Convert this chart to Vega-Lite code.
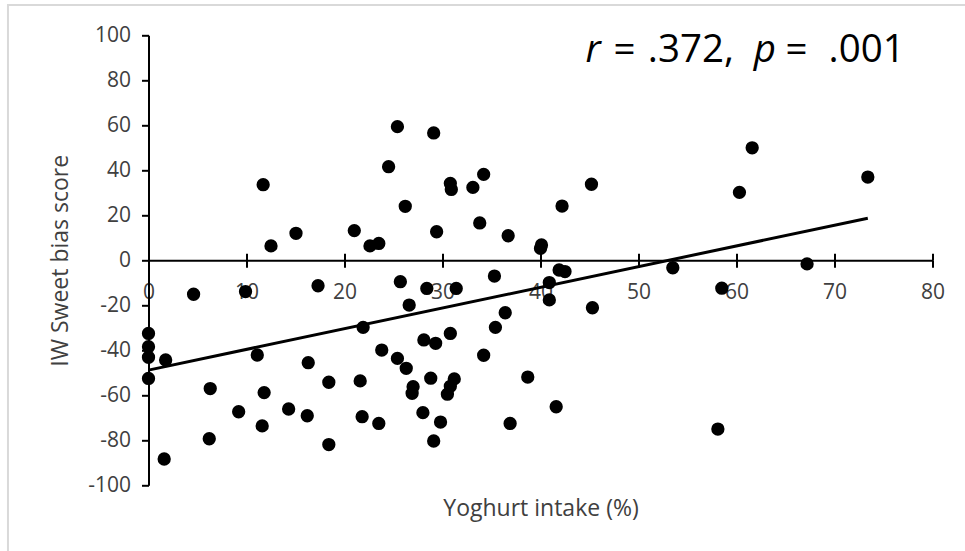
{
  "$schema": "https://vega.github.io/schema/vega-lite/v6.json",
  "width": 784,
  "height": 450,
  "autosize": {"type": "none"},
  "padding": {"left": 148.5, "top": 35.3, "right": 32.5, "bottom": 65.7},
  "background": "white",
  "config": {
    "view": {"stroke": null},
    "font": "Open Sans",
    "axis": {
      "grid": false,
      "domainColor": "black",
      "domainWidth": 2,
      "tickColor": "black",
      "tickWidth": 2,
      "tickSize": 7,
      "labelColor": "#404040",
      "labelFont": "Open Sans",
      "labelFontSize": 21,
      "labelFlush": false,
      "labelOverlap": false,
      "labelExpr": "'' + datum.value",
      "titleColor": "#404040",
      "titleFont": "Open Sans",
      "titleFontSize": 23,
      "titleFontWeight": "normal"
    },
    "text": {"fontSize": 38.5, "align": "left", "baseline": "alphabetic", "color": "black", "font": "Open Sans"}
  },
  "layer": [
    {
      "description": "chart-area frame",
      "data": {"values": [{}]},
      "mark": {"type": "rect", "filled": false, "fill": null, "stroke": "#d9d9d9", "strokeWidth": 2, "clip": false},
      "encoding": {
        "x": {"datum": -14.34, "type": "quantitative", "scale": {"domain": [0, 80], "nice": false, "zero": false}, "axis": null},
        "x2": {"datum": 95},
        "y": {"datum": 113.5, "type": "quantitative", "scale": {"domain": [-100, 100], "nice": false, "zero": false}, "axis": null},
        "y2": {"datum": -140}
      }
    },
    {
      "data": {
        "values": [
          {"intake": 0, "bias": -32.5}, {"intake": 0, "bias": -38.4}, {"intake": 0, "bias": -43.1}, {"intake": 0, "bias": -52.5},
          {"intake": 1.75, "bias": -44.3}, {"intake": 1.6, "bias": -88.3}, {"intake": 4.6, "bias": -15.1},
          {"intake": 6.3, "bias": -57.0}, {"intake": 6.2, "bias": -79.3}, {"intake": 9.2, "bias": -67.3},
          {"intake": 9.9, "bias": -13.9}, {"intake": 11.1, "bias": -42.1}, {"intake": 11.8, "bias": -58.8},
          {"intake": 11.6, "bias": -73.6}, {"intake": 11.7, "bias": 33.6}, {"intake": 12.5, "bias": 6.4},
          {"intake": 14.3, "bias": -66.1}, {"intake": 15.05, "bias": 12.0}, {"intake": 16.3, "bias": -45.5},
          {"intake": 16.2, "bias": -69.1}, {"intake": 17.3, "bias": -11.3}, {"intake": 18.4, "bias": -54.2},
          {"intake": 18.4, "bias": -81.9}, {"intake": 21.0, "bias": 13.2}, {"intake": 21.9, "bias": -29.8},
          {"intake": 21.6, "bias": -53.6}, {"intake": 21.8, "bias": -69.5}, {"intake": 22.6, "bias": 6.4},
          {"intake": 23.5, "bias": 7.5}, {"intake": 23.5, "bias": -72.5}, {"intake": 23.8, "bias": -39.9},
          {"intake": 24.5, "bias": 41.6}, {"intake": 25.4, "bias": 59.4}, {"intake": 25.4, "bias": -43.6},
          {"intake": 25.7, "bias": -9.5}, {"intake": 26.2, "bias": 24.0}, {"intake": 26.3, "bias": -48.0},
          {"intake": 26.6, "bias": -19.9}, {"intake": 27.0, "bias": -56.2}, {"intake": 26.9, "bias": -59.1},
          {"intake": 28.0, "bias": -67.7}, {"intake": 28.1, "bias": -35.4}, {"intake": 28.4, "bias": -12.5},
          {"intake": 28.8, "bias": -52.4}, {"intake": 29.1, "bias": 56.6}, {"intake": 29.1, "bias": -80.3},
          {"intake": 29.3, "bias": -36.9}, {"intake": 29.4, "bias": 12.7}, {"intake": 29.8, "bias": -71.9},
          {"intake": 30.8, "bias": 34.2}, {"intake": 30.9, "bias": 31.5}, {"intake": 30.8, "bias": -32.5},
          {"intake": 31.4, "bias": -12.5}, {"intake": 31.2, "bias": -52.7}, {"intake": 30.8, "bias": -56.0},
          {"intake": 30.5, "bias": -59.5}, {"intake": 33.1, "bias": 32.4}, {"intake": 33.8, "bias": 16.6},
          {"intake": 34.2, "bias": 38.2}, {"intake": 34.2, "bias": -42.2}, {"intake": 35.3, "bias": -7.0},
          {"intake": 35.4, "bias": -29.8}, {"intake": 36.4, "bias": -23.3}, {"intake": 36.7, "bias": 10.9},
          {"intake": 36.9, "bias": -72.5}, {"intake": 38.7, "bias": -51.9}, {"intake": 40.1, "bias": 6.8},
          {"intake": 40.0, "bias": 5.3}, {"intake": 40.9, "bias": -9.9}, {"intake": 40.9, "bias": -17.6},
          {"intake": 41.6, "bias": -65.1}, {"intake": 41.9, "bias": -4.3}, {"intake": 42.5, "bias": -5.0},
          {"intake": 42.2, "bias": 24.1}, {"intake": 45.2, "bias": 33.8}, {"intake": 45.3, "bias": -21.1},
          {"intake": 53.5, "bias": -3.3}, {"intake": 58.1, "bias": -75.0}, {"intake": 58.5, "bias": -12.4},
          {"intake": 60.3, "bias": 30.2}, {"intake": 61.6, "bias": 50.0}, {"intake": 67.2, "bias": -1.6},
          {"intake": 73.4, "bias": 37.0}
        ]
      },
      "mark": {"type": "circle", "size": 177, "color": "black", "opacity": 1},
      "encoding": {
        "x": {
          "field": "intake", "type": "quantitative",
          "scale": {"domain": [0, 80], "nice": false, "zero": false},
          "axis": {
            "orient": "bottom", "offset": -225,
            "values": [0, 10, 20, 30, 40, 50, 60, 70, 80],
            "labelPadding": 14,
            "title": "Yoghurt intake (%)",
            "titleY": 255, "titleBaseline": "alphabetic"
          }
        },
        "y": {
          "field": "bias", "type": "quantitative",
          "scale": {"domain": [-100, 100], "nice": false, "zero": false},
          "axis": {
            "orient": "left",
            "values": [-100, -80, -60, -40, -20, 0, 20, 40, 60, 80, 100],
            "labelPadding": 11,
            "title": "IW Sweet bias score",
            "titlePadding": 15
          }
        }
      }
    },
    {
      "description": "least-squares trend line",
      "data": {"values": [{"intake": 0, "bias": -48.8}, {"intake": 73.4, "bias": 18.7}]},
      "mark": {"type": "line", "color": "black", "strokeWidth": 3},
      "encoding": {
        "x": {
          "field": "intake", "type": "quantitative",
          "scale": {"domain": [0, 80], "nice": false, "zero": false},
          "axis": {
            "orient": "top", "offset": -225, "domain": false, "labels": false, "title": null,
            "values": [10, 20, 30, 40, 50, 60, 70, 80]
          }
        },
        "y": {"field": "bias", "type": "quantitative", "scale": {"domain": [-100, 100], "nice": false, "zero": false}, "axis": null}
      }
    },
    {
      "description": "correlation annotation: italic statistic symbols",
      "data": {"values": [{"piece": "r", "at": 44.6}, {"piece": "p", "at": 61.75}]},
      "mark": {"type": "text", "fontStyle": "italic"},
      "encoding": {
        "text": {"field": "piece"},
        "x": {"field": "at", "type": "quantitative", "scale": {"domain": [0, 80], "nice": false, "zero": false}, "axis": null},
        "y": {"datum": 88.3, "type": "quantitative", "scale": {"domain": [-100, 100], "nice": false, "zero": false}, "axis": null}
      }
    },
    {
      "description": "correlation annotation: upright text",
      "data": {
        "values": [
          {"piece": "=", "at": 47.45},
          {"piece": ".372,", "at": 50.95},
          {"piece": "=", "at": 65.0},
          {"piece": ".001", "at": 69.4}
        ]
      },
      "mark": {"type": "text"},
      "encoding": {
        "text": {"field": "piece"},
        "x": {"field": "at", "type": "quantitative", "scale": {"domain": [0, 80], "nice": false, "zero": false}, "axis": null},
        "y": {"datum": 88.3, "type": "quantitative", "scale": {"domain": [-100, 100], "nice": false, "zero": false}, "axis": null}
      }
    }
  ],
  "resolve": {"axis": {"x": "independent", "y": "independent"}}
}
